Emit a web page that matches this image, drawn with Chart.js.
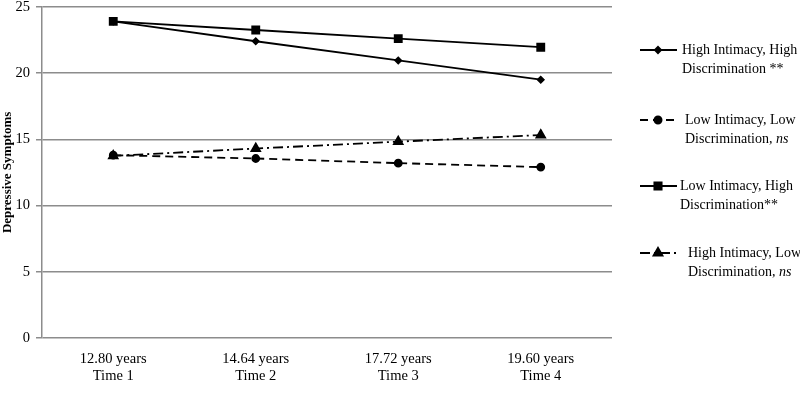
<!DOCTYPE html>
<html>
<head>
<meta charset="utf-8">
<script src="https://cdn.jsdelivr.net/npm/chart.js@4.4.1/dist/chart.umd.min.js"></script>
<style>
  html, body { margin: 0; padding: 0; background: #fff; }
  #wrap { width: 800px; height: 406px; }
</style>
</head>
<body>
<div id="wrap"><canvas id="chart1"></canvas></div>
<script>
// data
var ages = ["12.80 years", "14.64 years", "17.72 years", "19.60 years"];
var times = ["Time 1", "Time 2", "Time 3", "Time 4"];
var highHigh = [23.9, 22.4, 20.95, 19.5];
var lowLow = [13.8, 13.55, 13.2, 12.9];
var lowHigh = [23.9, 23.25, 22.6, 21.95];
var highLow = [13.75, 14.3, 14.82, 15.32];
var yTicks = [0, 5, 10, 15, 20, 25];

var legendText = [
    ["High Intimacy, High", "Discrimination **"],
    ["Low Intimacy, Low", "Discrimination, ns"],
    ["Low Intimacy, High", "Discrimination**"],
    ["High Intimacy, Low", "Discrimination, ns"]
];

var labels = [];
for (var i = 0; i < ages.length; i++) {
    labels.push([ages[i], times[i]]);
}

var serif = "'Liberation Serif', 'Times New Roman', serif";

// legend on the right, drawn by hand (two lines per entry)
var sideLegend = {
    id: "sideLegend",
    afterDraw: function(chart) {
        var ctx = chart.ctx;
        var rows = [50, 120, 186, 253];
        var textX = [682, 685, 680, 688];
        chart.data.datasets.forEach(function(ds, i) {
            var y = rows[i];
            ctx.save();
            ctx.strokeStyle = "#000";
            ctx.lineWidth = 2;
            ctx.setLineDash(ds.borderDash || []);
            ctx.beginPath();
            ctx.moveTo(640, y);
            ctx.lineTo(677, y);
            ctx.stroke();
            ctx.setLineDash([]);
            ctx.fillStyle = "#000";
            Chart.helpers.drawPoint(ctx, {
                pointStyle: ds.pointStyle,
                radius: ds.pointRadius,
                rotation: 0,
                borderWidth: 1
            }, 658, y);
            ctx.fillStyle = "#000";
            ctx.textBaseline = "middle";
            ctx.textAlign = "left";
            var t = legendText[i];
            var x = textX[i];
            ctx.font = "14px " + serif;
            ctx.fillText(t[0], x, y);
            // "ns" is italic in the reference
            var line2 = t[1];
            if (line2.endsWith(", ns")) {
                var head = line2.slice(0, -2);
                ctx.fillText(head, x, y + 19);
                var w = ctx.measureText(head).width;
                ctx.font = "italic 14px " + serif;
                ctx.fillText("ns", x + w, y + 19);
            } else {
                ctx.fillText(line2, x, y + 19);
            }
            ctx.restore();
        });
    }
};

var ctx = document.getElementById("chart1").getContext("2d");
var chart = new Chart(ctx, {
    type: "line",
    data: {
        labels: labels,
        datasets: [
            {
                label: "High Intimacy, High Discrimination **",
                data: highHigh,
                borderColor: "#000",
                backgroundColor: "#000",
                borderWidth: 1.8,
                pointStyle: "rectRot",
                pointRadius: 3,
                borderDash: []
            },
            {
                label: "Low Intimacy, Low Discrimination, ns",
                data: lowLow,
                borderColor: "#000",
                backgroundColor: "#000",
                borderWidth: 1.8,
                pointStyle: "circle",
                pointRadius: 3.5,
                borderDash: [8, 5]
            },
            {
                label: "Low Intimacy, High Discrimination**",
                data: lowHigh,
                borderColor: "#000",
                backgroundColor: "#000",
                borderWidth: 1.8,
                pointStyle: "rect",
                pointRadius: 5,
                borderDash: []
            },
            {
                label: "High Intimacy, Low Discrimination, ns",
                data: highLow,
                borderColor: "#000",
                backgroundColor: "#000",
                borderWidth: 1.8,
                pointStyle: "triangle",
                pointRadius: 5,
                borderDash: [10, 4, 2, 4]
            }
        ]
    },
    options: {
        responsive: true,
        maintainAspectRatio: false,
        animation: false,
        layout: {
            padding: { top: 1, right: 188, left: 0, bottom: 0 }
        },
        plugins: {
            legend: { display: false },
            tooltip: { enabled: false }
        },
        scales: {
            x: {
                offset: true,
                grid: { display: false, drawTicks: false },
                border: { display: false },
                ticks: {
                    color: "#000",
                    padding: 12,
                    font: { family: serif, size: 14.5 }
                },
                afterFit: function(s) { s.height = 68; }
            },
            y: {
                min: 0,
                max: 25,
                afterBuildTicks: function(s) {
                    s.ticks = yTicks.map(function(v) { return { value: v }; });
                },
                grid: {
                    color: "#8c8c8c",
                    lineWidth: 1.5,
                    tickLength: 6
                },
                border: { display: true, color: "#8c8c8c", width: 1.5 },
                ticks: {
                    color: "#000",
                    padding: 6,
                    font: { family: serif, size: 14.5 }
                },
                title: {
                    display: true,
                    text: "Depressive Symptoms",
                    color: "#000",
                    padding: 0,
                    font: { family: serif, size: 13, weight: "bold" }
                },
                afterFit: function(s) {
                    s.width = 42;
                    s.paddingTop = 0;
                    s.paddingBottom = 0;
                }
            }
        }
    },
    plugins: [sideLegend]
});
</script>
</body>
</html>
